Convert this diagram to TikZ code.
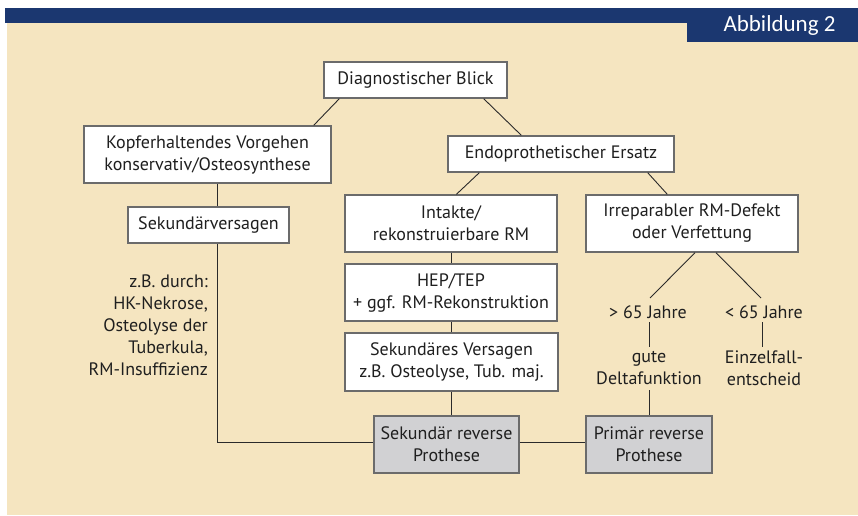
\documentclass[tikz,border=0pt]{standalone}
\usepackage{fontspec}
\setmainfont{PT Sans}
\newfontfamily\tabfont{Carlito}
\definecolor{beige}{HTML}{F5E5C0}
\definecolor{barblue}{HTML}{1B3770}
\definecolor{boxline}{HTML}{6B6B6B}
\definecolor{greyfill}{HTML}{D1D1D3}
\definecolor{conn}{HTML}{2A2A2A}
\definecolor{txt}{HTML}{1F1F1F}
\tikzset{
  box/.style={draw=boxline, line width=1.3pt, fill=white, inner sep=0pt, align=center,
    text=txt, font=\fontsize{18}{22}\selectfont},
  greybox/.style={box, fill=greyfill},
  plain/.style={inner sep=0pt, align=center, text=txt, font=\fontsize{18}{22}\selectfont},
  conline/.style={draw=conn, line width=0.9pt},
}
\begin{document}
\begin{tikzpicture}[x=1pt,y=-1pt]
\useasboundingbox (0,0) rectangle (858,515);
\fill[white] (0,0) rectangle (858,515);
\fill[beige] (7,23) rectangle (858,515);
\fill[barblue] (5,8) rectangle (858,23);
\fill[barblue] (687,8) rectangle (858,42);
\node[text=white, font=\tabfont\fontsize{23}{26}\selectfont] (tab) at (779.5,25) {Abbildung 2};

\node[box, minimum width=183pt, minimum height=36pt] (diag) at (415.5,80) {Diagnostischer Blick};
\node[box, minimum width=247pt, minimum height=57pt] (kopf) at (207.5,154.5) {Kopferhaltendes Vorgehen\\konservativ/Osteosynthese};
\node[box, minimum width=161pt, minimum height=36pt] (sekv) at (208.5,225) {Sekundärversagen};
\node[box, minimum width=226pt, minimum height=36pt] (endo) at (561,154) {Endoprothetischer Ersatz};
\node[box, minimum width=212pt, minimum height=57pt] (intakte) at (451,223.5) {Intakte/\\rekonstruierbare RM};
\node[box, minimum width=212pt, minimum height=57pt] (irrep) at (692,223.5) {Irreparabler RM-Defekt\\oder Verfettung};
\node[box, minimum width=212pt, minimum height=57pt] (hep) at (451,292.5) {HEP/TEP\\+ ggf. RM-Rekonstruktion};
\node[box, minimum width=213pt, minimum height=58pt] (sekvers) at (451.5,362) {Sekundäres Versagen\\z.B. Osteolyse, Tub. maj.};
\node[greybox, minimum width=145pt, minimum height=57pt] (sekrev) at (446.5,444.5) {Sekundär reverse\\Prothese};
\node[greybox, minimum width=126pt, minimum height=57pt] (primrev) at (649,444.5) {Primär reverse\\Prothese};

\node[plain, align=right, anchor=east] (zb) at (208,325) {z.B. durch:\\HK-Nekrose,\\Osteolyse der\\Tuberkula,\\RM-Insuffizienz};
\node[plain] (g65) at (648,312) {> 65 Jahre};
\node[plain] (l65) at (764,312) {< 65 Jahre};
\node[plain] (gute) at (649,368) {gute\\Deltafunktion};
\node[plain] (einz) at (764,368) {Einzelfall-\\entscheid};

\draw[conline] ([xshift=16pt]diag.south west) -- ([xshift=-18pt]kopf.north east);
\draw[conline] ([xshift=-24pt]diag.south east) -- ([xshift=74pt]endo.north west);
\draw[conline] ([xshift=9.5pt]kopf.south) -- ([xshift=8.5pt]sekv.north);
\draw[conline] ([xshift=8.5pt]sekv.south) |- ([yshift=2.5pt]sekrev.west);
\draw[conline] ([xshift=32pt]endo.south west) -- ([xshift=112pt]intakte.north west);
\draw[conline] ([xshift=-27pt]endo.south east) -- ([xshift=82pt]irrep.north west);
\draw[conline] (intakte.south) -- (hep.north);
\draw[conline] (sekvers.north) -- (hep.south -| sekvers.north);
\draw[conline] (sekvers.south) -- (sekvers.south |- sekrev.north);
\draw[conline] ([yshift=2.5pt]sekrev.east) -- ([yshift=2.5pt]primrev.west);
\draw[conline] ([xshift=3pt]irrep.south) -- ([xshift=2pt,yshift=14pt]g65.center);
\draw[conline] ([xshift=24pt]irrep.south) -- ([xshift=-3pt,yshift=14pt]l65.center);
\draw[conline] ([xshift=1pt,yshift=-10pt]g65.center) -- ([yshift=21pt]gute.center);
\draw[conline] ([yshift=-22pt]gute.center) -- (primrev.north);
\draw[conline] ([xshift=-2pt,yshift=-10pt]l65.center) -- ([xshift=-2pt,yshift=21pt]einz.center);
\end{tikzpicture}
\end{document}
